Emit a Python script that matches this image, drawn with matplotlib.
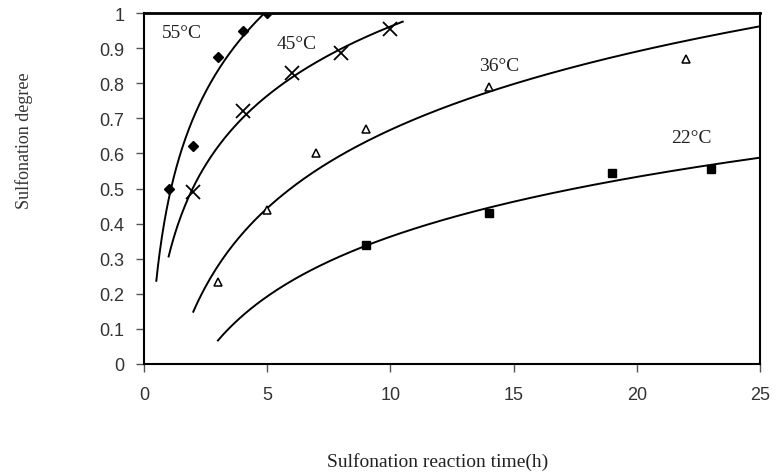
import numpy as np
import matplotlib.pyplot as plt

# measured points
t55 = [1, 2, 3, 4, 5]
s55 = [0.50, 0.62, 0.875, 0.95, 1.0]
t45 = [2, 4, 6, 8, 10]
s45 = [0.49, 0.72, 0.83, 0.885, 0.955]
t36 = [3, 5, 7, 9, 14, 22]
s36 = [0.235, 0.44, 0.60, 0.67, 0.79, 0.87]
t22 = [9, 14, 19, 23]
s22 = [0.34, 0.43, 0.545, 0.555]

series = [
    ('55°C', t55, s55, (0.5, 5), dict(marker='D', ms=5, mfc='black', mec='black'), (0.73, 0.92)),
    ('45°C', t45, s45, (1, 10.5), dict(marker='x', ms=10, mew=1.3, mec='black'), (5.4, 0.888)),
    ('36°C', t36, s36, (2, 25), dict(marker='^', ms=6, mfc='white', mec='black', mew=1.1), (13.6, 0.826)),
    ('22°C', t22, s22, (3, 25), dict(marker='s', ms=6, mfc='black', mec='black'), (21.4, 0.621)),
]

fig = plt.figure(figsize=(7.76, 4.77), dpi=100)
ax = fig.add_axes([144/776, 1 - 365/477, 616/776, 351/477])

for name, t, s, rng, mk, pos in series:
    # logarithmic trend line fitted to the points
    b, a = np.polyfit(np.log(t), s, 1)
    xx = np.linspace(rng[0], rng[1], 200)
    ax.plot(xx, a + b * np.log(xx), color='black', lw=1.4)
    ax.plot(t, s, ls='none', color='black', **mk)
    ax.text(pos[0], pos[1], name, family='Liberation Serif', fontsize=14, ha='left', va='bottom', color='#222222')

ax.set_xlim(0, 25)
ax.set_ylim(0, 1)
ax.set_xticks(np.arange(0, 26, 5))
ax.set_yticks(np.round(np.arange(0, 1.01, 0.1), 1))
ax.set_yticklabels(['0', '0.1', '0.2', '0.3', '0.4', '0.5', '0.6', '0.7', '0.8', '0.9', '1'])
ax.tick_params(direction='out', length=6, labelsize=13, width=1, colors='#555555', labelcolor='#333333')
ax.tick_params(axis='x', pad=10)
ax.tick_params(axis='y', pad=8)
for lbl in ax.get_xticklabels() + ax.get_yticklabels():
    lbl.set_family('Liberation Sans')
for sp in ax.spines.values():
    sp.set_linewidth(1.5)
ax.spines['top'].set_linewidth(2)

ax.set_xlabel('Sulfonation reaction time(h)', family='Liberation Serif', fontsize=14, color='#222222')
ax.set_ylabel('Sulfonation degree', family='Liberation Serif', fontsize=13, color='#333333')
ax.xaxis.set_label_coords(0.476, -0.25)
ax.yaxis.set_label_coords(-0.18, 0.64)

fig.savefig('out.png', dpi=100)
